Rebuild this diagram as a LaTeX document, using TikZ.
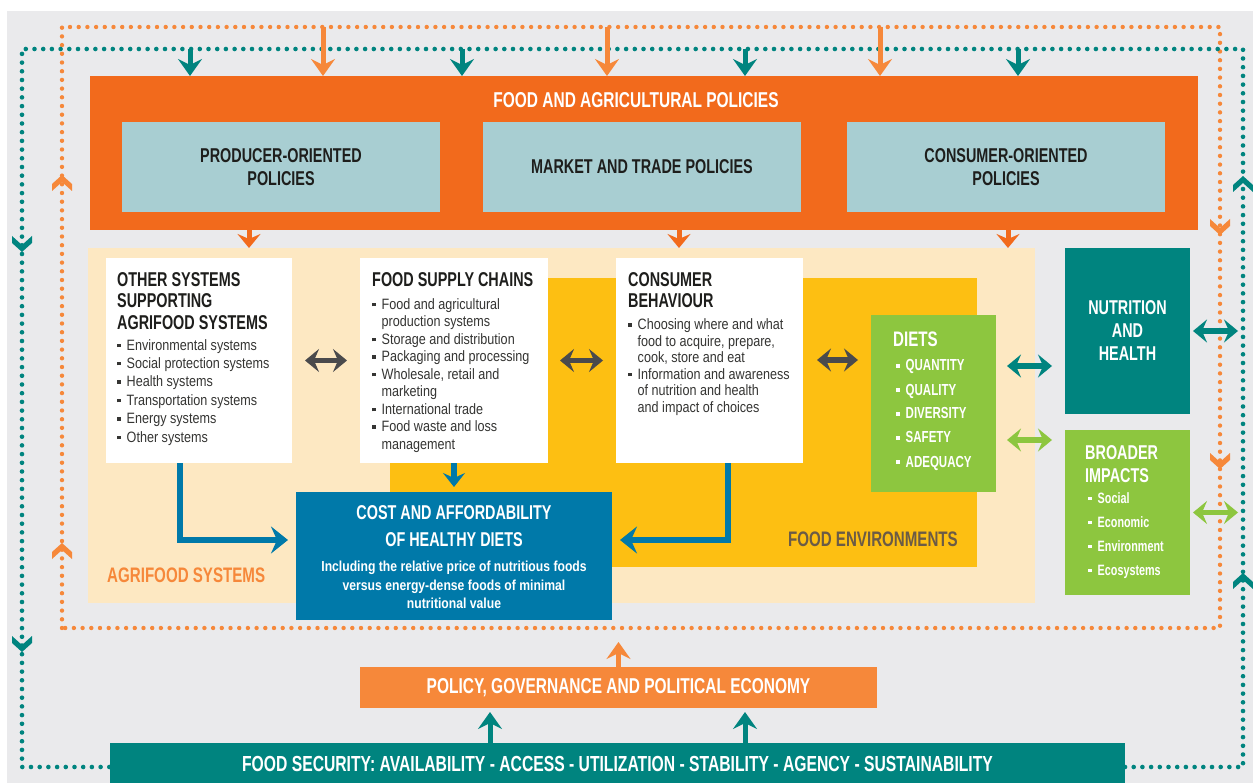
\documentclass[tikz,border=0pt]{standalone}
\usepackage{fontspec}
\setmainfont{Liberation Sans}
\newfontfamily\fsHeadFont{Liberation Sans}[FakeStretch=0.72]
\newfontfamily\fsBodyFont{Liberation Sans}[FakeStretch=0.84]
\usetikzlibrary{positioning, calc, arrows.meta, decorations.markings}
\definecolor{fsBg}{HTML}{EAEAEC}
\definecolor{fsOrange}{HTML}{F26A1C}
\definecolor{fsOrangeL}{HTML}{F6883A}
\definecolor{fsPale}{HTML}{A8CED2}
\definecolor{fsTeal}{HTML}{00847F}
\definecolor{fsPeach}{HTML}{FDE8C2}
\definecolor{fsYellow}{HTML}{FDBF12}
\definecolor{fsGreen}{HTML}{8DC63F}
\definecolor{fsBlue}{HTML}{0079A9}
\definecolor{fsGray}{HTML}{4A4A4C}
\definecolor{fsInk}{HTML}{1E1E1C}
\definecolor{fsEnvText}{HTML}{6B5B46}
\newcommand{\headSize}[2]{\fsHeadFont\bfseries\fontsize{#1}{#2}\selectfont}
\newcommand{\bodySize}[2]{\fsBodyFont\fontsize{#1}{#2}\selectfont}
\newcommand{\sqBullet}{\rule[0.2em]{3.5pt}{3.5pt}}
% chevron sitting on a dotted loop
\newcommand{\fsChevron}[1]{\fill[#1] (7,0) -- (-2,10) -- (-9,10) -- (0,0) -- (-9,-10) -- (-2,-10) -- cycle;}
\tikzset{
    fsHead/.tip={Stealth[length=17pt, width=24pt, inset=6pt]},
    fsSmall/.tip={Stealth[length=14pt, width=23pt, inset=5pt]},
    fsBox/.style={rectangle, inner sep=0pt, outer sep=0pt, anchor=north west},
    % boxes
    paleBox/.style={fsBox, fill=fsPale, align=center, text=fsInk, font=\headSize{20}{23}},
    whiteBox/.style={fsBox, fill=white},
    boxHead/.style={inner sep=0pt, anchor=north west, align=left, text=fsInk, font=\headSize{20}{21.5}},
    boxList/.style={inner sep=0pt, anchor=north west, text=fsInk!90},
    whiteHead/.style={inner sep=0pt, anchor=north west, align=left, text=white, font=\headSize{20}{23}},
    bigLabel/.style={inner sep=0pt, font=\headSize{21}{24}},
    % connectors
    orangeDots/.style={draw=fsOrangeL, line width=4.4pt, line cap=round, dash pattern=on 0pt off 8.7pt},
    tealDots/.style={draw=fsTeal, line width=4.6pt, line cap=round, dash pattern=on 0pt off 8.7pt},
    tealDown/.style={draw=fsTeal, line width=5pt, -fsHead},
    orangeDown/.style={draw=fsOrangeL, line width=5pt, -fsHead},
    orangeSmall/.style={draw=fsOrange, line width=5pt, -fsSmall},
    grayDbl/.style={draw=fsGray, line width=5.5pt, fsSmall-fsSmall},
    tealDbl/.style={draw=fsTeal, line width=5.5pt, fsSmall-fsSmall},
    greenDbl/.style={draw=fsGreen, line width=5.5pt, fsSmall-fsSmall},
    blueArr/.style={draw=fsBlue, line width=6pt, -{Stealth[length=17pt, width=27pt, inset=6pt]}}
}

\begin{document}
\begin{tikzpicture}[x=1pt, y=-1pt]
\useasboundingbox (0,0) rectangle (1253,783);
\fill[white] (0,0) rectangle (1253,783);
\fill[fsBg] (7,11) rectangle (1253,783);

\coordinate (oNW) at (62,27);
\coordinate (oSE) at (1220,628);
\coordinate (tNW) at (22,49);
\coordinate (tSE) at (1243,767);

% bottom boxes
\node[fsBox, fill=fsOrangeL, minimum width=517pt, minimum height=41pt] (gov) at (360,667) {};
\node[bigLabel, text=white, font=\headSize{21.5}{24}] at (gov.center) {POLICY, GOVERNANCE AND POLITICAL ECONOMY};
\node[fsBox, fill=fsTeal, minimum width=1015pt, minimum height=40pt] (fs) at (110,743) {};
\node[bigLabel, text=white, font=\headSize{21.8}{24}] at ([yshift=-1pt]fs.center) {FOOD SECURITY: AVAILABILITY - ACCESS - UTILIZATION - STABILITY - AGENCY - SUSTAINABILITY};

% dotted loops
\draw[orangeDots, postaction={decorate}, decoration={markings,
    mark=at position 78pt with {\fsChevron{fsOrangeL}},
    mark=at position 446pt with {\fsChevron{fsOrangeL}},
    mark=at position 1960pt with {\fsChevron{fsOrangeL}},
    mark=at position 2194pt with {\fsChevron{fsOrangeL}}}]
  (oNW |- oSE) -- (oNW) -- (oNW -| oSE) -- (oSE) -- cycle;
\draw[tealDots, postaction={decorate}, decoration={markings,
    mark=at position 305pt with {\fsChevron{fsTeal}},
    mark=at position 702pt with {\fsChevron{fsTeal}},
    mark=at position 2253pt with {\fsChevron{fsTeal}},
    mark=at position 2653pt with {\fsChevron{fsTeal}}}]
  (fs.east |- tSE) -- (tSE) -- (tSE |- tNW) -- (tNW) -- (tNW |- tSE) -- (fs.west |- tSE);

% policies
\node[fsBox, fill=fsOrange, minimum width=1108pt, minimum height=154pt] (fap) at (90,76) {};
\node[bigLabel, text=white, font=\headSize{21.5}{24}] (fapTitle) at ([shift={(-8,24)}]fap.north) {FOOD AND AGRICULTURAL POLICIES};
\node[paleBox, minimum width=318pt, minimum height=90pt] (prodPol) at (122,122) {PRODUCER-ORIENTED\\POLICIES};
\node[paleBox, minimum width=318pt, minimum height=90pt] (tradePol) at (483,122) {MARKET AND TRADE POLICIES};
\node[paleBox, minimum width=318pt, minimum height=90pt] (consPol) at (847,122) {CONSUMER-ORIENTED\\POLICIES};

% agrifood systems
\node[fsBox, fill=fsPeach, minimum width=947pt, minimum height=355pt] (agri) at (88,248) {};
\node[fsBox, fill=fsYellow, minimum width=587pt, minimum height=289pt] (env) at (390,278) {};
\node[bigLabel, text=fsOrangeL, anchor=west] at ([shift={(19,-28)}]agri.south west) {AGRIFOOD SYSTEMS};
\node[bigLabel, text=fsEnvText, anchor=east] at ([shift={(-19,-28)}]env.south east) {FOOD ENVIRONMENTS};

\node[whiteBox, minimum width=186pt, minimum height=205pt] (other) at (106,258) {};
\node[boxHead] (otherHead) at ([shift={(11,14)}]other.north west) {OTHER SYSTEMS\\SUPPORTING\\AGRIFOOD SYSTEMS};
\node[boxList, font=\bodySize{15}{18.4}] (otherList) at ([shift={(11,79)}]other.north west) {%
  \begin{tabular}{@{}l@{\hspace{6pt}}l@{}}
  \sqBullet & Environmental systems\\
  \sqBullet & Social protection systems\\
  \sqBullet & Health systems\\
  \sqBullet & Transportation systems\\
  \sqBullet & Energy systems\\
  \sqBullet & Other systems
  \end{tabular}};

\node[whiteBox, minimum width=188pt, minimum height=205pt] (supply) at (360,258) {};
\node[boxHead] (supplyHead) at ([shift={(12,14)}]supply.north west) {FOOD SUPPLY CHAINS};
\node[boxList, font=\bodySize{15}{17.5}] (supplyList) at ([shift={(12,39)}]supply.north west) {%
  \begin{tabular}{@{}l@{\hspace{6pt}}l@{}}
  \sqBullet & Food and agricultural\\
            & production systems\\
  \sqBullet & Storage and distribution\\
  \sqBullet & Packaging and processing\\
  \sqBullet & Wholesale, retail and\\
            & marketing\\
  \sqBullet & International trade\\
  \sqBullet & Food waste and loss\\
            & management
  \end{tabular}};

\node[whiteBox, minimum width=187pt, minimum height=205pt] (behav) at (616,258) {};
\node[boxHead] (behavHead) at ([shift={(12,14)}]behav.north west) {CONSUMER\\BEHAVIOUR};
\node[boxList, font=\bodySize{15}{16.5}] (behavList) at ([shift={(12,60)}]behav.north west) {%
  \begin{tabular}{@{}l@{\hspace{6pt}}l@{}}
  \sqBullet & Choosing where and what\\
            & food to acquire, prepare,\\
            & cook, store and eat\\
  \sqBullet & Information and awareness\\
            & of nutrition and health\\
            & and impact of choices
  \end{tabular}};

\node[fsBox, fill=fsGreen, minimum width=125pt, minimum height=177pt] (diets) at (871,315) {};
\node[whiteHead, font=\headSize{21}{23}] (dietsHead) at ([shift={(22,17)}]diets.north west) {DIETS};
\node[boxList, text=white, font=\headSize{16}{24}] (dietsList) at ([shift={(25,39)}]diets.north west) {%
  \begin{tabular}{@{}l@{\hspace{6pt}}l@{}}
  \sqBullet & QUANTITY\\
  \sqBullet & QUALITY\\
  \sqBullet & DIVERSITY\\
  \sqBullet & SAFETY\\
  \sqBullet & ADEQUACY
  \end{tabular}};

\node[fsBox, fill=fsBlue, minimum width=316pt, minimum height=128pt] (cost) at (296,492) {};
\node[inner sep=0pt, align=center, text=white, font=\headSize{20}{27}] (costHead) at ([yshift=-34.5pt]cost.north) {COST AND AFFORDABILITY\\OF HEALTHY DIETS};
\node[inner sep=0pt, align=center, text=white, font=\fsBodyFont\bfseries\fontsize{14.5}{18.5}\selectfont] (costSub) at ([yshift=-93pt]cost.north) {Including the relative price of nutritious foods\\versus energy-dense foods of minimal\\nutritional value};

% outcomes
\node[fsBox, fill=fsTeal, minimum width=125pt, minimum height=166pt, align=center, text=white, font=\headSize{20}{23}] (nut) at (1065,248) {NUTRITION\\AND\\HEALTH};
\node[fsBox, fill=fsGreen, minimum width=125pt, minimum height=165pt] (broad) at (1065,430) {};
\node[whiteHead] (broadHead) at ([shift={(20,15)}]broad.north west) {BROADER\\IMPACTS};
\node[boxList, text=white, font=\headSize{15}{24}] (broadList) at ([shift={(23,56)}]broad.north west) {%
  \begin{tabular}{@{}l@{\hspace{6pt}}l@{}}
  \sqBullet & Social\\
  \sqBullet & Economic\\
  \sqBullet & Environment\\
  \sqBullet & Ecosystems
  \end{tabular}};

% arrows from the loops
\coordinate (tTop1) at (190,49);
\coordinate (tTop2) at (462,49);
\coordinate (tTop3) at (745,49);
\coordinate (tTop4) at (1018,49);
\coordinate (oTop1) at (323,27);
\coordinate (oTop2) at (607,27);
\coordinate (oTop3) at (880,27);
\draw[tealDown] (tTop1) -- (tTop1 |- fap.north);
\draw[tealDown] (tTop2) -- (tTop2 |- fap.north);
\draw[tealDown] (tTop3) -- (tTop3 |- fap.north);
\draw[tealDown] (tTop4) -- (tTop4 |- fap.north);
\draw[orangeDown] (oTop1) -- (oTop1 |- fap.north);
\draw[orangeDown] (oTop2) -- (oTop2 |- fap.north);
\draw[orangeDown] (oTop3) -- (oTop3 |- fap.north);

\draw[orangeSmall] (fap.south -| 249,0) -- (agri.north -| 249,0);
\draw[orangeSmall] (fap.south -| 679,0) -- (agri.north -| 679,0);
\draw[orangeSmall] (fap.south -| 1008,0) -- (agri.north -| 1008,0);

% links between systems
\draw[grayDbl, shorten <=13pt, shorten >=13pt] (other) -- (supply);
\draw[grayDbl, shorten <=12pt, shorten >=13pt] (supply) -- (behav);
\draw[grayDbl, shorten <=14pt, shorten >=13pt] (behav.east |- 0,360) -- (diets.west |- 0,360);
\draw[tealDbl, shorten <=11pt, shorten >=13pt] (diets.east |- 0,366) -- (nut.west |- 0,366);
\draw[greenDbl, shorten <=11pt, shorten >=13pt] (diets.east |- 0,440) -- (broad.west |- 0,440);
\draw[tealDbl, shorten <=3pt, shorten >=5pt] (nut.east) -- (nut.east -| tSE);
\draw[greenDbl, shorten <=3pt, shorten >=5pt] (broad.east) -- (broad.east -| tSE);

\draw[blueArr, shorten >=8pt] ([xshift=-19pt]other.south) |- (cost.west |- 0,540);
\draw[blueArr, shorten >=8pt] ([xshift=18.5pt]behav.south) |- (cost.east |- 0,540);
\draw[blueArr, shorten >=5pt, -{Stealth[length=14pt, width=22pt, inset=5pt]}] (supply.south) -- (cost.north);

\draw[orangeDown, shorten >=14pt] (gov.north) -- (gov.north |- oSE);
\draw[tealDown, shorten >=4pt] (fs.north -| 490,0) -- (gov.south -| 490,0);
\draw[tealDown, shorten >=4pt] (fs.north -| 745,0) -- (gov.south -| 745,0);
\end{tikzpicture}
\end{document}
